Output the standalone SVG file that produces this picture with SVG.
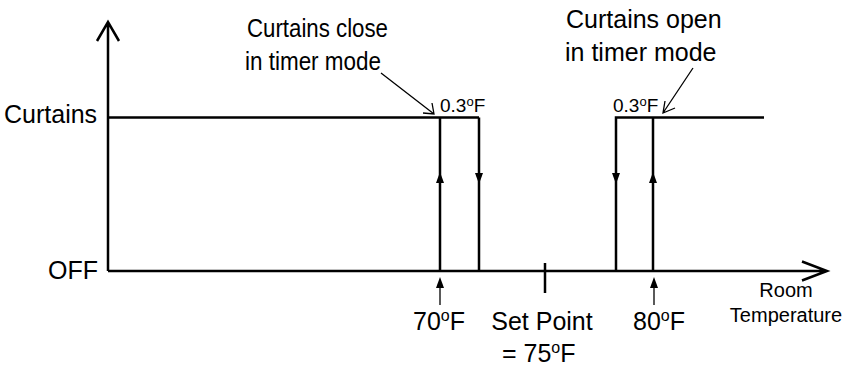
<svg xmlns="http://www.w3.org/2000/svg" width="851" height="367" viewBox="0 0 851 367">
<style>
text{font-family:"Liberation Sans",Arial,sans-serif;fill:#000}
.big{font-size:25px}
.sm{font-size:19px}
.ax{stroke:#000;stroke-width:2.5;fill:none}
.thin{stroke:#000;stroke-width:1.3;fill:none}
.tri{fill:#000;stroke:none}
</style>
<rect width="851" height="367" fill="#fff"/>
<g id="axes">
<path class="ax" d="M108,271 V22 M97,41 L108,22 L119,41"/>
<path class="ax" d="M108,271 H827 M802,261.5 L827,271 L802,280.5"/>
<path class="ax" d="M545,263 V293"/>
</g>
<g id="connectors">
<path class="ax" d="M108,117.5 H479 M440,117.5 V271 M479,117.5 V271"/>
<path class="ax" d="M616,271 V117.5 H764 M653,117.5 V271"/>
<polygon class="tri" points="440,172 436,183 444,183"/>
<polygon class="tri" points="479,184 475,173 483,173"/>
<polygon class="tri" points="616,184 612,173 620,173"/>
<polygon class="tri" points="653,172 649,183 657,183"/>
<path class="thin" d="M440,305 V285"/>
<polygon class="tri" points="440,277 436,288 444,288"/>
<path class="thin" d="M654,305 V285"/>
<polygon class="tri" points="654,277 650,288 658,288"/>
<path class="thin" d="M381,73 L434,114 M432,103 L434,114 L423,113"/>
<path class="thin" d="M693,68 L663,113 M665,101 L663,113 L675,108"/>
</g>
<g id="labels">
<text class="big" x="4" y="123">Curtains</text>
<text class="big" x="48" y="279">OFF</text>
<text class="big" x="247" y="37" textLength="141" lengthAdjust="spacingAndGlyphs">Curtains close</text>
<text class="big" x="245" y="70" textLength="136" lengthAdjust="spacingAndGlyphs">in timer mode</text>
<text class="big" x="566" y="28">Curtains open</text>
<text class="big" x="565" y="61">in timer mode</text>
<text class="sm" x="440" y="112">0.3<tspan font-size="13" dy="-6">o</tspan><tspan dy="6">F</tspan></text>
<text class="sm" x="613" y="112">0.3<tspan font-size="13" dy="-6">o</tspan><tspan dy="6">F</tspan></text>
<text class="big" x="413" y="330">70<tspan font-size="16" dy="-9">o</tspan><tspan dy="9">F</tspan></text>
<text class="big" x="542" y="330" text-anchor="middle">Set Point</text>
<text class="big" x="502" y="362">= 75<tspan font-size="16" dy="-9">o</tspan><tspan dy="9">F</tspan></text>
<text class="big" x="633" y="330">80<tspan font-size="16" dy="-9">o</tspan><tspan dy="9">F</tspan></text>
<text x="786" y="297" font-size="20" text-anchor="middle">Room</text>
<text x="786" y="322" font-size="20" text-anchor="middle">Temperature</text>
</g>
</svg>
